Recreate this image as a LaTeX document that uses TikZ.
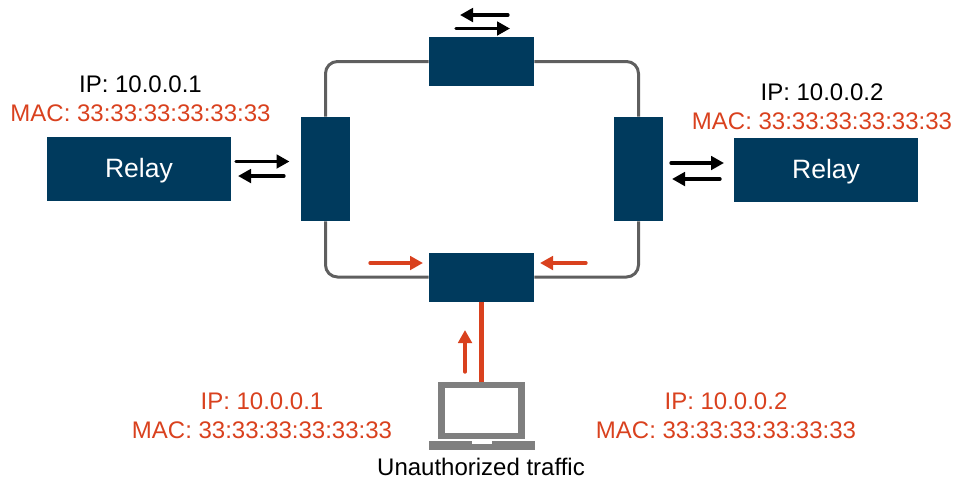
\documentclass[tikz,border=0pt]{standalone}
\usepackage{fontspec}
\setmainfont{Liberation Sans}
\usetikzlibrary{arrows.meta,positioning}
\definecolor{navy}{HTML}{003A5D}
\definecolor{alert}{HTML}{D9411E}
\definecolor{ringgray}{HTML}{5F5F5F}
\definecolor{laptopgray}{HTML}{7F7F7F}

\begin{document}
\begin{tikzpicture}[
    switchh/.style={rectangle, fill=navy, minimum width=2.1cm, minimum height=0.98cm, inner sep=0pt},
    switchv/.style={rectangle, fill=navy, minimum width=0.98cm, minimum height=2.08cm, inner sep=0pt},
    relay/.style={rectangle, fill=navy, text=white, minimum width=3.68cm, minimum height=1.28cm, inner sep=0pt, text depth=1pt, font=\fontsize{15.1}{17}\selectfont},
    addr/.style={align=center, inner sep=0pt, font=\fontsize{13.65}{16.4}\selectfont},
    ring/.style={draw=ringgray, line width=1.7pt, rounded corners=0.24cm},
    flow/.style={line width=1.9pt, line cap=round, -{Triangle[length=0.26cm,width=0.27cm]}},
    uplink/.style={draw=alert, line width=2.3pt}
]

\useasboundingbox (0,0) rectangle (19.18,-9.6);

% Ring switches
\node[switchh] (top) at (9.63,-1.23) {};
\node[switchv] (left) at (6.51,-3.38) {};
\node[switchv] (right) at (12.77,-3.38) {};
\node[switchh] (bottom) at (9.63,-5.54) {};

% Relays
\node[relay] (relay1) at (2.78,-3.38) {Relay};
\node[relay] (relay2) at (16.52,-3.4) {Relay};

% Laptop
\node[rectangle, draw=laptopgray, fill=white, line width=3.5pt, minimum width=1.6cm, minimum height=1.03cm, inner sep=0pt] (laptop) at (9.63,-8.21) {};
\node[rectangle, fill=laptopgray, minimum width=2.12cm, minimum height=0.18cm, inner sep=0pt] (base) at (9.63,-8.91) {};
\node[rectangle, fill=white, minimum width=0.4cm, minimum height=0.06cm, inner sep=0pt] (notch) at (9.63,-8.85) {};

% Ring links
\draw[ring] (top) -| (left);
\draw[ring] (top) -| (right);
\draw[ring] (bottom) -| (left);
\draw[ring] (bottom) -| (right);
\draw[uplink] (bottom) -- (laptop);

% Free arrow ends
\coordinate (t1) at (10.16,-0.3);
\coordinate (t2) at (9.2,-0.3);
\coordinate (t3) at (9.12,-0.57);
\coordinate (t4) at (10.2,-0.57);
\coordinate (l1) at (4.72,-3.23);
\coordinate (l2) at (5.79,-3.23);
\coordinate (l3) at (5.68,-3.52);
\coordinate (l4) at (4.76,-3.52);
\coordinate (r1) at (13.42,-3.26);
\coordinate (r2) at (14.48,-3.26);
\coordinate (r3) at (14.4,-3.58);
\coordinate (r4) at (13.44,-3.58);
\coordinate (b1) at (7.4,-5.26);
\coordinate (b2) at (8.46,-5.26);
\coordinate (b3) at (11.72,-5.26);
\coordinate (b4) at (10.8,-5.26);
\coordinate (u1) at (9.3,-7.44);
\coordinate (u2) at (9.3,-6.6);

% Arrows
\foreach \i/\j in {t1/t2, t3/t4, l1/l2, l3/l4, r1/r2, r3/r4} {
    \draw[flow] (\i) -- (\j);
}
\foreach \i/\j in {b1/b2, b3/b4, u1/u2} {
    \draw[flow, alert] (\i) -- (\j);
}

% Addresses
\node[addr] (addr1) at (2.81,-1.98) {IP: 10.0.0.1\\ \textcolor{alert}{MAC: 33:33:33:33:33:33}};
\node[addr] (addr2) at (16.44,-2.14) {IP: 10.0.0.2\\ \textcolor{alert}{MAC: 33:33:33:33:33:33}};
\node[addr, text=alert] (spoof1) at (5.24,-8.31) {IP: 10.0.0.1\\ MAC: 33:33:33:33:33:33};
\node[addr, text=alert] (spoof2) at (14.52,-8.31) {IP: 10.0.0.2\\ MAC: 33:33:33:33:33:33};
\node[addr] (caption) at (9.62,-9.34) {Unauthorized traffic};

\end{tikzpicture}
\end{document}
